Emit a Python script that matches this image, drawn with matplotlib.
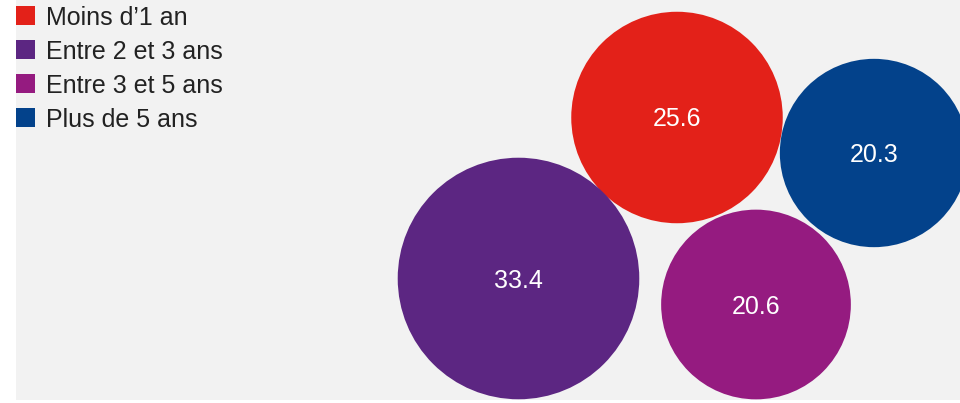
import numpy as np
import matplotlib.pyplot as plt
from matplotlib.patches import Circle, Rectangle

# data
categories = ["Moins d\u20191 an", "Entre 2 et 3 ans", "Entre 3 et 5 ans", "Plus de 5 ans"]
values = [25.6, 33.4, 20.6, 20.3]
colors = ["#e32119", "#5c2682", "#951b80", "#03428b"]

# layout (pixel coordinates of the bubble centres)
centres = [(677, 117.5), (518.5, 278.5), (756, 304.5), (874, 153)]
scale = 20.9  # radius in px per sqrt(value)

plt.rcParams['font.family'] = ['Liberation Sans', 'DejaVu Sans']

fig = plt.figure(figsize=(9.6, 4.03), dpi=100)
ax = fig.add_axes([0, 0, 1, 1])
ax.set_xlim(0, 960)
ax.set_ylim(403, 0)
ax.set_aspect('equal')
ax.axis('off')

# grey panel
ax.add_patch(Rectangle((16, 0), 944, 400, facecolor='#f2f2f2', edgecolor='none', zorder=0))

# bubbles, area proportional to value
for v, c, (cx, cy) in zip(values, colors, centres):
    r = scale * np.sqrt(v)
    ax.add_patch(Circle((cx, cy), r, facecolor=c, edgecolor='none', zorder=2))
    ax.text(cx, cy + 9, f"{v:.1f}", color='white', fontsize=18,
            ha='center', va='baseline', zorder=3)

# legend
for i, (lab, c) in enumerate(zip(categories, colors)):
    y = 6 + i * 34
    ax.add_patch(Rectangle((16, y), 19, 19, facecolor=c, edgecolor='none', zorder=2))
    ax.text(46, y + 19, lab, color='#222222', fontsize=18,
            ha='left', va='baseline', zorder=3)

fig.savefig('out.png', dpi=100)
